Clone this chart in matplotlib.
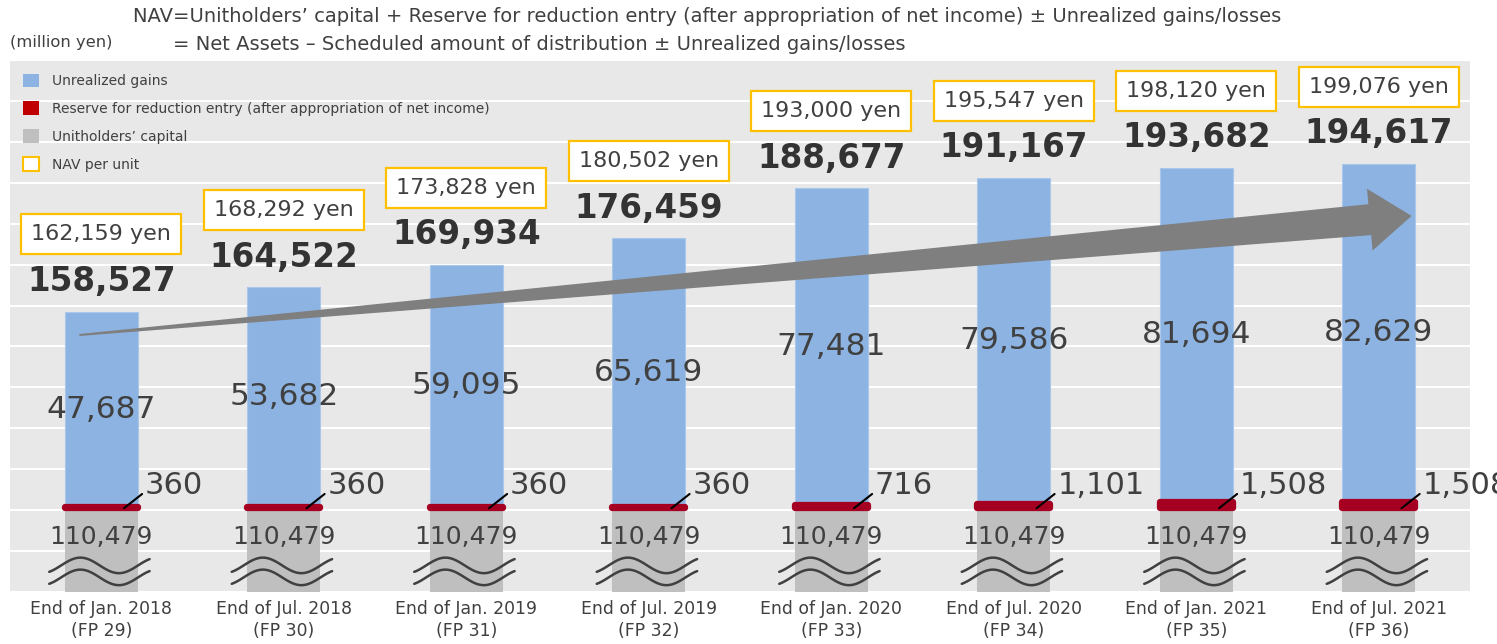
import numpy as np
import matplotlib.pyplot as plt
from matplotlib.patches import Patch, Polygon

# data (million yen)
periods = ["End of Jan. 2018\n(FP 29)", "End of Jul. 2018\n(FP 30)",
           "End of Jan. 2019\n(FP 31)", "End of Jul. 2019\n(FP 32)",
           "End of Jan. 2020\n(FP 33)", "End of Jul. 2020\n(FP 34)",
           "End of Jan. 2021\n(FP 35)", "End of Jul. 2021\n(FP 36)"]
capital = [110479, 110479, 110479, 110479, 110479, 110479, 110479, 110479]
reserve = [360, 360, 360, 360, 716, 1101, 1508, 1508]
unrealized = [47687, 53682, 59095, 65619, 77481, 79586, 81694, 82629]
totals = [158527, 164522, 169934, 176459, 188677, 191167, 193682, 194617]
nav_per_unit = [162159, 168292, 173828, 180502, 193000, 195547, 198120, 199076]

BLUE = "#8DB3E2"
RED = "#A50021"
GRAY = "#BFBFBF"
GOLD = "#FFC000"
TXT = "#404040"

fig = plt.figure(figsize=(14.97, 6.44), dpi=100)
ax = fig.add_axes([10 / 1497, 52 / 644, 1460 / 1497, 532 / 644])
ax.set_facecolor("#E8E8E8")
for s in ax.spines.values():
    s.set_visible(False)

x = np.arange(len(periods))
cap = np.array(capital)
res = np.array(reserve)
unr = np.array(unrealized)
w = 0.4

ax.set_xlim(-0.5, 7.5)
ax.set_ylim(90000, 220000)
ax.set_yticks(np.arange(90000, 220001, 10000))
ax.tick_params(axis="y", length=0, labelleft=False)
ax.grid(axis="y", color="white", lw=1.5)
ax.set_axisbelow(True)

ax.bar(x, cap, width=w, color=GRAY, zorder=2)
ax.bar(x, unr, bottom=cap + res, width=w, color=BLUE, edgecolor="#A9C6EB", lw=0.8, zorder=2)
ax.bar(x, res, bottom=cap, width=w, color=RED, edgecolor=RED, lw=4.5,
       joinstyle="round", zorder=3)

# wavy break marks on the capital bars
t = np.linspace(0, 1, 60)
wave = np.sin(-0.976 + 8.2 * t)
for xi in x:
    xs = xi - 0.285 + 0.55 * t
    ax.plot(xs, 96500 + 1900 * wave, color=TXT, lw=1.8, zorder=4, solid_capstyle="round")
    ax.plot(xs, 96500 - 2930 + 1900 * wave, color=TXT, lw=1.8, zorder=4, solid_capstyle="round")

# big trend arrow (built in pixel space, then mapped to data)
p0 = ax.transData.transform((-0.12, 152800))
p1 = ax.transData.transform((7.18, 181900))
d = p1 - p0
u = d / np.hypot(*d)
n = np.array([-u[1], u[0]])
base = p1 - u * 42
verts = [p0 + n * 1, base + n * 15.5, base + n * 31, p1,
         base - n * 31, base - n * 15.5, p0 - n * 1]
verts = ax.transData.inverted().transform(np.array(verts))
ax.add_patch(Polygon(verts, closed=True, fc="#7F7F7F", ec="none", zorder=5))

# labels
for i in range(len(x)):
    top = cap[i] + res[i] + unr[i]
    ax.text(x[i], cap[i] + res[i] + unr[i] / 2, f"{unrealized[i]:,}", ha="center", va="center",
            fontsize=22.5, color=TXT, zorder=6)
    ax.text(x[i], 103400, f"{capital[i]:,}", ha="center", va="center",
            fontsize=18, color=TXT, zorder=6)
    ax.annotate(f"{totals[i]:,}", xy=(x[i], top), xytext=(0, 21.6), textcoords="offset points",
                ha="center", va="center", fontsize=23.5, fontweight="bold", color="#333333", zorder=6)
    ax.annotate(f"{nav_per_unit[i]:,} yen", xy=(x[i], top), xytext=(0, 55.5), textcoords="offset points",
                ha="center", va="center", fontsize=16, color=TXT, zorder=6,
                bbox=dict(boxstyle="square,pad=0.45", fc="white", ec=GOLD, lw=1.6))
    ax.annotate(f"{reserve[i]:,}", xy=(x[i] + 0.125, cap[i]), xytext=(15, 16),
                textcoords="offset points", ha="left", va="center", fontsize=22, color=TXT,
                zorder=6, annotation_clip=False,
                arrowprops=dict(arrowstyle="-", color="black", lw=1.5, shrinkA=0, shrinkB=0,
                                relpos=(0, 0.3)))

ax.set_xticks(x, periods)
ax.tick_params(axis="x", length=0, pad=6, labelsize=12.4, labelcolor=TXT)
for lab in ax.get_xticklabels():
    lab.set_linespacing(1.25)

handles = [Patch(fc=BLUE), Patch(fc="#C00000"), Patch(fc=GRAY), Patch(fc="white", ec=GOLD, lw=1.5)]
labels = ["Unrealized gains", "Reserve for reduction entry (after appropriation of net income)",
          "Unitholders’ capital", "NAV per unit"]
ax.legend(handles, labels, loc="upper left", bbox_to_anchor=(0.005, 0.985), frameon=False,
          fontsize=10, handlelength=1.15, handleheight=1.15, handletextpad=0.95,
          labelspacing=0.95, borderaxespad=0, labelcolor=TXT)

fig.text(133 / 1497, 1 - 17 / 644,
         "NAV=Unitholders’ capital + Reserve for reduction entry (after appropriation of net income) ± Unrealized gains/losses",
         ha="left", va="center", fontsize=14, color=TXT)
fig.text(173 / 1497, 1 - 45 / 644,
         "= Net Assets – Scheduled amount of distribution ± Unrealized gains/losses",
         ha="left", va="center", fontsize=14, color=TXT)
fig.text(10 / 1497, 1 - 43 / 644, "(million yen)", ha="left", va="center", fontsize=11.8, color=TXT)

fig.savefig("out.png", dpi=100)
